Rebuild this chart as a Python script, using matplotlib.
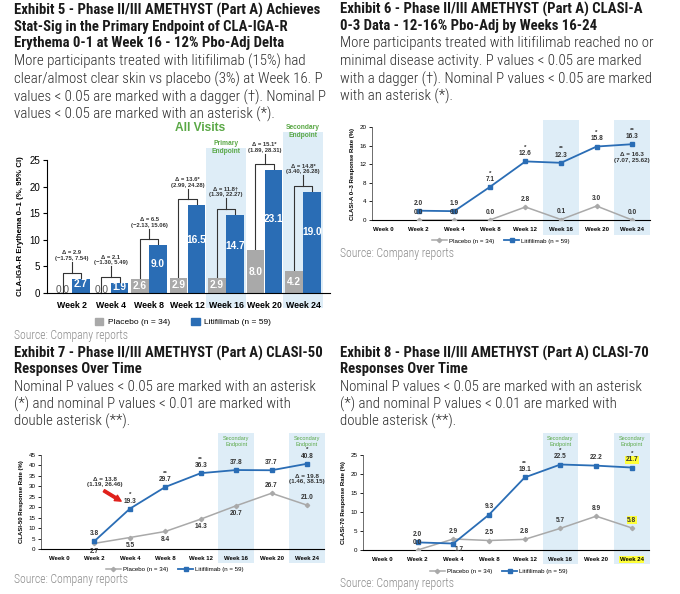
import numpy as np
import matplotlib
matplotlib.use('Agg')
import matplotlib.pyplot as plt
from matplotlib import font_manager as fm
from matplotlib.patches import Rectangle, FancyArrowPatch
from matplotlib.lines import Line2D
import matplotlib.transforms as mtransforms

# ---------------- data ----------------
weeks5 = ['Week 2', 'Week 4', 'Week 8', 'Week 12', 'Week 16', 'Week 20', 'Week 24']
ex5_placebo = [0.0, 0.0, 2.6, 2.9, 2.9, 8.0, 4.2]
ex5_liti = [2.7, 1.9, 9.0, 16.5, 14.7, 23.1, 19.0]
ex5_delta = ['2.9', '2.1', '6.5', '13.6*', '11.8\u2020', '15.1*', '14.8*']
ex5_ci = ['(\u22121.75, 7.54)', '(\u22121.30, 5.49)', '(\u22122.13, 15.06)', '(2.99, 24.28)',
          '(1.39, 22.27)', '(1.89, 28.31)', '(3.40, 26.28)']

weeks = ['Week 0', 'Week 2', 'Week 4', 'Week 8', 'Week 12', 'Week 16', 'Week 20', 'Week 24']
ex6_placebo = [np.nan, 0.0, 0.0, 0.0, 2.8, 0.1, 3.0, 0.0]
ex6_liti = [np.nan, 2.0, 1.9, 7.1, 12.6, 12.3, 15.8, 16.3]
ex6_sig = ['', '', '', '*', '*', '**', '*', '**']

ex7_placebo = [np.nan, 2.7, 5.5, 8.4, 14.3, 20.7, 26.7, 21.0]
ex7_liti = [np.nan, 3.8, 19.3, 29.7, 36.3, 37.8, 37.7, 40.8]
ex7_sig = ['', '', '*', '**', '**', '', '', '*']

ex8_placebo = [np.nan, 0.0, 2.9, 2.5, 2.8, 5.7, 8.9, 5.8]
ex8_liti = [np.nan, 2.0, 1.7, 9.3, 19.1, 22.5, 22.2, 21.7]
ex8_sig = ['', '', '', '', '**', '*', '', '*']

# ---------------- fonts ----------------
names = {f.name for f in fm.fontManager.ttflist}
TFONT = 'Roboto'
for cand in ['Roboto Condensed', 'Liberation Sans Narrow', 'Roboto']:
    if cand in names:
        TFONT = cand
        break
CFONT = 'Liberation Sans' if 'Liberation Sans' in names else 'DejaVu Sans'
plt.rcParams['font.family'] = [CFONT, 'DejaVu Sans']

W, H = 680, 594
fig = plt.figure(figsize=(W / 100, H / 100), dpi=100)
fig.patch.set_facecolor('white')
renderer = fig.canvas.get_renderer()

BLUE = '#2a6db5'
GREY = '#a9a9a9'
GREEN = '#5aa846'
BAND = '#deedf7'
DARK = '#333333'
YEL = '#ffff3a'


def fy(y):
    return 1 - y / H


def fitsize(text, width, weight, base=10):
    t = fig.text(0, 0, text, fontsize=base, family=[TFONT, 'DejaVu Sans'], fontweight=weight)
    w = t.get_window_extent(renderer=renderer).width
    t.remove()
    return base * width / w


TSIZE = fitsize('Exhibit 5 - Phase II/III AMETHYST (Part A) Achieves', 307, 'bold')
BSIZE = fitsize('More participants treated with litifilimab (15%) had', 292, 'light')


def title_block(x, ys_t, tlines, ys_b, blines):
    for y, s in zip(ys_t, tlines):
        fig.text(x / W, fy(y), s, fontsize=TSIZE, fontweight='bold', family=[TFONT, 'DejaVu Sans'],
                 va='center', ha='left', color='#1a1a1a')
    for y, s in zip(ys_b, blines):
        fig.text(x / W, fy(y), s, fontsize=BSIZE, fontweight='light', family=[TFONT, 'DejaVu Sans'],
                 va='center', ha='left', color='#2a2a2a')


def source(x, y):
    fig.text(x / W, fy(y), 'Source: Company reports', fontsize=BSIZE * 0.78, fontweight='light',
             family=[TFONT, 'DejaVu Sans'], color='#8a8a8a', va='center', ha='left')


def add_ax(l, t, r, b):
    return fig.add_axes([l / W, 1 - b / H, (r - l) / W, (b - t) / H])


def band(ax, xc, half, bottom, top):
    tr = mtransforms.blended_transform_factory(ax.transData, ax.transAxes)
    ax.add_patch(Rectangle((xc - half, bottom), 2 * half, top - bottom, transform=tr,
                           facecolor=BAND, edgecolor='none', zorder=0, clip_on=False))


# ---------------- text blocks ----------------
title_block(14, [10, 27, 43],
            ['Exhibit 5 - Phase II/III AMETHYST (Part A) Achieves',
             'Stat-Sig in the Primary Endpoint of CLA-IGA-R',
             'Erythema 0-1 at Week 16 - 12% Pbo-Adj Delta'],
            [61, 79, 97, 114],
            ['More participants treated with litifilimab (15%) had',
             'clear/almost clear skin vs placebo (3%) at Week 16. P',
             'values < 0.05 are marked with a dagger (\u2020). Nominal P',
             'values < 0.05 are marked with an asterisk (*).'])
title_block(340, [9, 26],
            ['Exhibit 6 - Phase II/III AMETHYST (Part A) CLASI-A',
             '0-3 Data - 12-16% Pbo-Adj by Weeks 16-24'],
            [43, 61, 79, 96],
            ['More participants treated with litifilimab reached no or',
             'minimal disease activity. P values < 0.05 are marked',
             'with a dagger (\u2020). Nominal P values < 0.05 are marked',
             'with an asterisk (*).'])
title_block(14, [353, 369],
            ['Exhibit 7 - Phase II/III AMETHYST (Part A) CLASI-50',
             'Responses Over Time'],
            [387, 404, 421],
            ['Nominal P values < 0.05 are marked with an asterisk',
             '(*) and nominal P values < 0.01 are marked with',
             'double asterisk (**).'])
title_block(340, [353, 369],
            ['Exhibit 8 - Phase II/III AMETHYST (Part A) CLASI-70',
             'Responses Over Time'],
            [387, 404, 421],
            ['Nominal P values < 0.05 are marked with an asterisk',
             '(*) and nominal P values < 0.01 are marked with',
             'double asterisk (**).'])
source(14, 336)
source(340, 253)
source(14, 580)
source(340, 583)

# ---------------- Exhibit 5 bar chart ----------------
ax5 = add_ax(47, 160, 330, 293)
x5 = np.arange(len(weeks5))
off, bw = 0.235, 0.46
band(ax5, 4, 0.52, -0.115, 1.09)
band(ax5, 6, 0.52, -0.115, 1.21)
ax5.bar(x5 - off, ex5_placebo, bw, color=GREY, zorder=2)
ax5.bar(x5 + off, ex5_liti, bw, color=BLUE, zorder=2)
ax5.set_xlim(-0.65, 6.7)
ax5.set_ylim(0, 25)
ax5.set_yticks([0, 5, 10, 15, 20, 25])
ax5.set_xticks(x5, weeks5)
ax5.tick_params(axis='x', length=0, labelsize=6.3, pad=6)
ax5.tick_params(axis='y', length=3, labelsize=7, width=0.8, pad=2)
for lab in ax5.get_xticklabels():
    lab.set_fontweight('bold')
for s in ['top', 'right']:
    ax5.spines[s].set_visible(False)
for s in ['left', 'bottom']:
    ax5.spines[s].set_linewidth(0.8)
ax5.patch.set_alpha(0)
ax5.set_ylabel('CLA-IGA-R Erythema 0\u20131 (%, 95% CI)', fontsize=5.7, fontweight='bold', labelpad=4)

for i, (p, l) in enumerate(zip(ex5_placebo, ex5_liti)):
    if p > 0:
        ax5.text(i - off, p / 2, f'{p:.1f}', color='white', fontsize=7.3, fontweight='bold',
                 ha='center', va='center', zorder=3)
    else:
        ax5.text(i - off, 0.55, f'{p:.1f}', color='#555555', fontsize=7.3,
                 ha='center', va='center', zorder=3)
    ax5.text(i + off, max(l * 0.6, 0.5), f'{l:.1f}', color='white', fontsize=7.3, fontweight='bold',
             ha='center', va='center', zorder=3)
    top = max(p, l) + 1.1
    ax5.plot([i - off, i - off, i + off, i + off], [p, top, top, l], color=DARK, lw=0.8,
             zorder=1.5, clip_on=False)
    ax5.plot([i, i], [top, top + 2.0], color=DARK, lw=0.8, zorder=1.5, clip_on=False)
    ax5.text(i, top + 2.2, f'\u0394 = {ex5_delta[i]}\n{ex5_ci[i]}', fontsize=4.2, fontweight='bold',
             ha='center', va='bottom', color=DARK, linespacing=1.2, clip_on=False)

tr5 = mtransforms.blended_transform_factory(ax5.transData, ax5.transAxes)
ax5.text(4, 1.035, 'Primary\nEndpoint', transform=tr5, color=GREEN, fontsize=4.8, fontweight='bold',
         ha='center', va='bottom', linespacing=1.2)
ax5.text(6, 1.16, 'Secondary\nEndpoint', transform=tr5, color=GREEN, fontsize=4.8, fontweight='bold',
         ha='center', va='bottom', linespacing=1.2)
fig.text(200 / W, fy(128), 'All Visits', color=GREEN, fontsize=8.6, fontweight='bold',
         ha='center', va='center')
h5 = [Rectangle((0, 0), 1, 1, color=GREY), Rectangle((0, 0), 1, 1, color=BLUE)]
fig.legend(h5, ['Placebo (n = 34)', 'Litifilimab (n = 59)'], loc='center',
           bbox_to_anchor=(183 / W, fy(322)), ncol=2, frameon=False, fontsize=6,
           handlelength=1.0, handleheight=1.0, columnspacing=2.6, handletextpad=0.5)


# ---------------- line charts ----------------
def line_chart(rect, xlim, ylim, yticks, ylabel, placebo, liti, sig, band_top, band_bottom,
               band_labels, pl_pos, li_pos, leg_center, highlight=False):
    ax = add_ax(*rect)
    x = np.arange(len(weeks))
    band(ax, 5, 0.5, band_bottom, band_top)
    band(ax, 7, 0.5, band_bottom, band_top)
    ax.plot(x, placebo, color=GREY, lw=1.1, marker='D', ms=2.2, zorder=3)
    ax.plot(x, liti, color=BLUE, lw=1.3, marker='s', ms=2.4, zorder=4)
    ax.set_xlim(*xlim)
    ax.set_ylim(*ylim)
    ax.set_yticks(yticks)
    ax.set_xticks(x, weeks)
    ax.tick_params(axis='x', length=0, labelsize=4.3, pad=5)
    ax.tick_params(axis='y', length=2.5, labelsize=4.5, width=0.6, pad=1.5)
    for lab in ax.get_xticklabels():
        lab.set_fontweight('bold')
    for s in ['top', 'right']:
        ax.spines[s].set_visible(False)
    ax.spines['left'].set_linewidth(0.6)
    ax.spines['bottom'].set_linewidth(0.8)
    ax.spines['left'].set_color('#555555')
    ax.patch.set_alpha(0)
    ax.set_ylabel(ylabel, fontsize=4.3, fontweight='bold', labelpad=3)
    for i in x:
        if np.isnan(liti[i]):
            continue
        dy = li_pos[i]
        ax.annotate(f'{liti[i]:.1f}', (i, liti[i]), xytext=(dy[0], dy[1]), textcoords='offset points',
                    ha='center', va='bottom' if dy[1] > 0 else 'top', fontsize=4.7, fontweight='bold',
                    color=DARK, zorder=5,
                    bbox=dict(boxstyle='square,pad=0.1', fc=YEL, ec='none')
                    if (highlight and i == 7) else None)
        if sig[i]:
            ax.annotate(sig[i], (i, liti[i]), xytext=(dy[0], dy[1] + 5.2), textcoords='offset points',
                        ha='center', va='bottom', fontsize=4.5, fontweight='bold', color=DARK, zorder=5)
        dp = pl_pos[i]
        ax.annotate(f'{placebo[i]:.1f}', (i, placebo[i]), xytext=(dp[0], dp[1]), textcoords='offset points',
                    ha='center', va='bottom' if dp[1] > 0 else 'top', fontsize=4.7, fontweight='bold',
                    color=DARK, zorder=5,
                    bbox=dict(boxstyle='square,pad=0.1', fc=YEL, ec='none')
                    if (highlight and i == 7) else None)
    if band_labels:
        tr = mtransforms.blended_transform_factory(ax.transData, ax.transAxes)
        for xc in (5, 7):
            ax.text(xc, band_top - 0.035, 'Secondary\nEndpoint', transform=tr, color=GREEN, fontsize=4,
                    ha='center', va='top', linespacing=1.15)
    if highlight:
        ax.get_xticklabels()[7].set_bbox(dict(boxstyle='square,pad=0.1', fc=YEL, ec='none'))
    hl = [Line2D([], [], color=GREY, lw=1.1, marker='D', ms=2.2),
          Line2D([], [], color=BLUE, lw=1.3, marker='s', ms=2.4)]
    fig.legend(hl, ['Placebo (n = 34)', 'Litifilimab (n = 59)'], loc='center',
               bbox_to_anchor=(leg_center[0] / W, fy(leg_center[1])), ncol=2, frameon=False,
               fontsize=4.4, handlelength=2.4, columnspacing=1.6, handletextpad=0.4)
    return ax


U = (0, 3)
D = (0, -3)
# Exhibit 6
ax6 = line_chart((372, 127, 650, 220), (-0.31, 7.5), (0, 20), [0, 4, 8, 12, 16, 20],
                 'CLASI-A 0\u20133 Response Rate (%)', ex6_placebo, ex6_liti, ex6_sig,
                 1.075, -0.16, False,
                 [(6, 0.5), U, U, U, U, U, U, U], [U] * 8, (501, 241))
ax6.text(7, 13.4, '\u0394 = 16.3\n(7.07, 25.62)', fontsize=4.5, fontweight='bold', ha='center',
         va='center', color=DARK, linespacing=1.15)

# Exhibit 7
ax7 = line_chart((41, 455, 324, 549), (-0.51, 7.48), (0, 45), list(range(0, 50, 5)),
                 'CLASI-50 Response Rate (%)', ex7_placebo, ex7_liti, ex7_sig,
                 1.234, -0.149, True,
                 [D, D, D, D, D, D, U, U], [U] * 8, (175, 569))
ax7.text(7, 33.6, '\u0394 = 19.8\n(1.46, 38.15)', fontsize=4.5, fontweight='bold', ha='center',
         va='center', color=DARK, linespacing=1.15)
ax7.text(1.3, 32.0, '\u0394 = 13.8\n(1.19, 26.46)', fontsize=4.5, fontweight='bold', ha='center',
         va='center', color=DARK, linespacing=1.15)
ax7.add_patch(FancyArrowPatch((1.2, 28.6), (1.82, 22.2),
                              arrowstyle='simple,head_width=4.5,head_length=4.5,tail_width=1.8',
                              color='#e0201b', zorder=6, mutation_scale=1))

# Exhibit 8
ax8 = line_chart((363, 455, 649, 550), (-0.53, 7.48), (0, 25), [0, 5, 10, 15, 20, 25],
                 'CLASI-70 Response Rate (%)', ex8_placebo, ex8_liti, ex8_sig,
                 1.23, -0.147, True,
                 [(-5, 2), U, U, U, U, U, U, U], [U, U, (4, -2), U, U, U, U, U], (499, 571),
                 highlight=True)

fig.savefig('out.png', dpi=100, facecolor='white')
